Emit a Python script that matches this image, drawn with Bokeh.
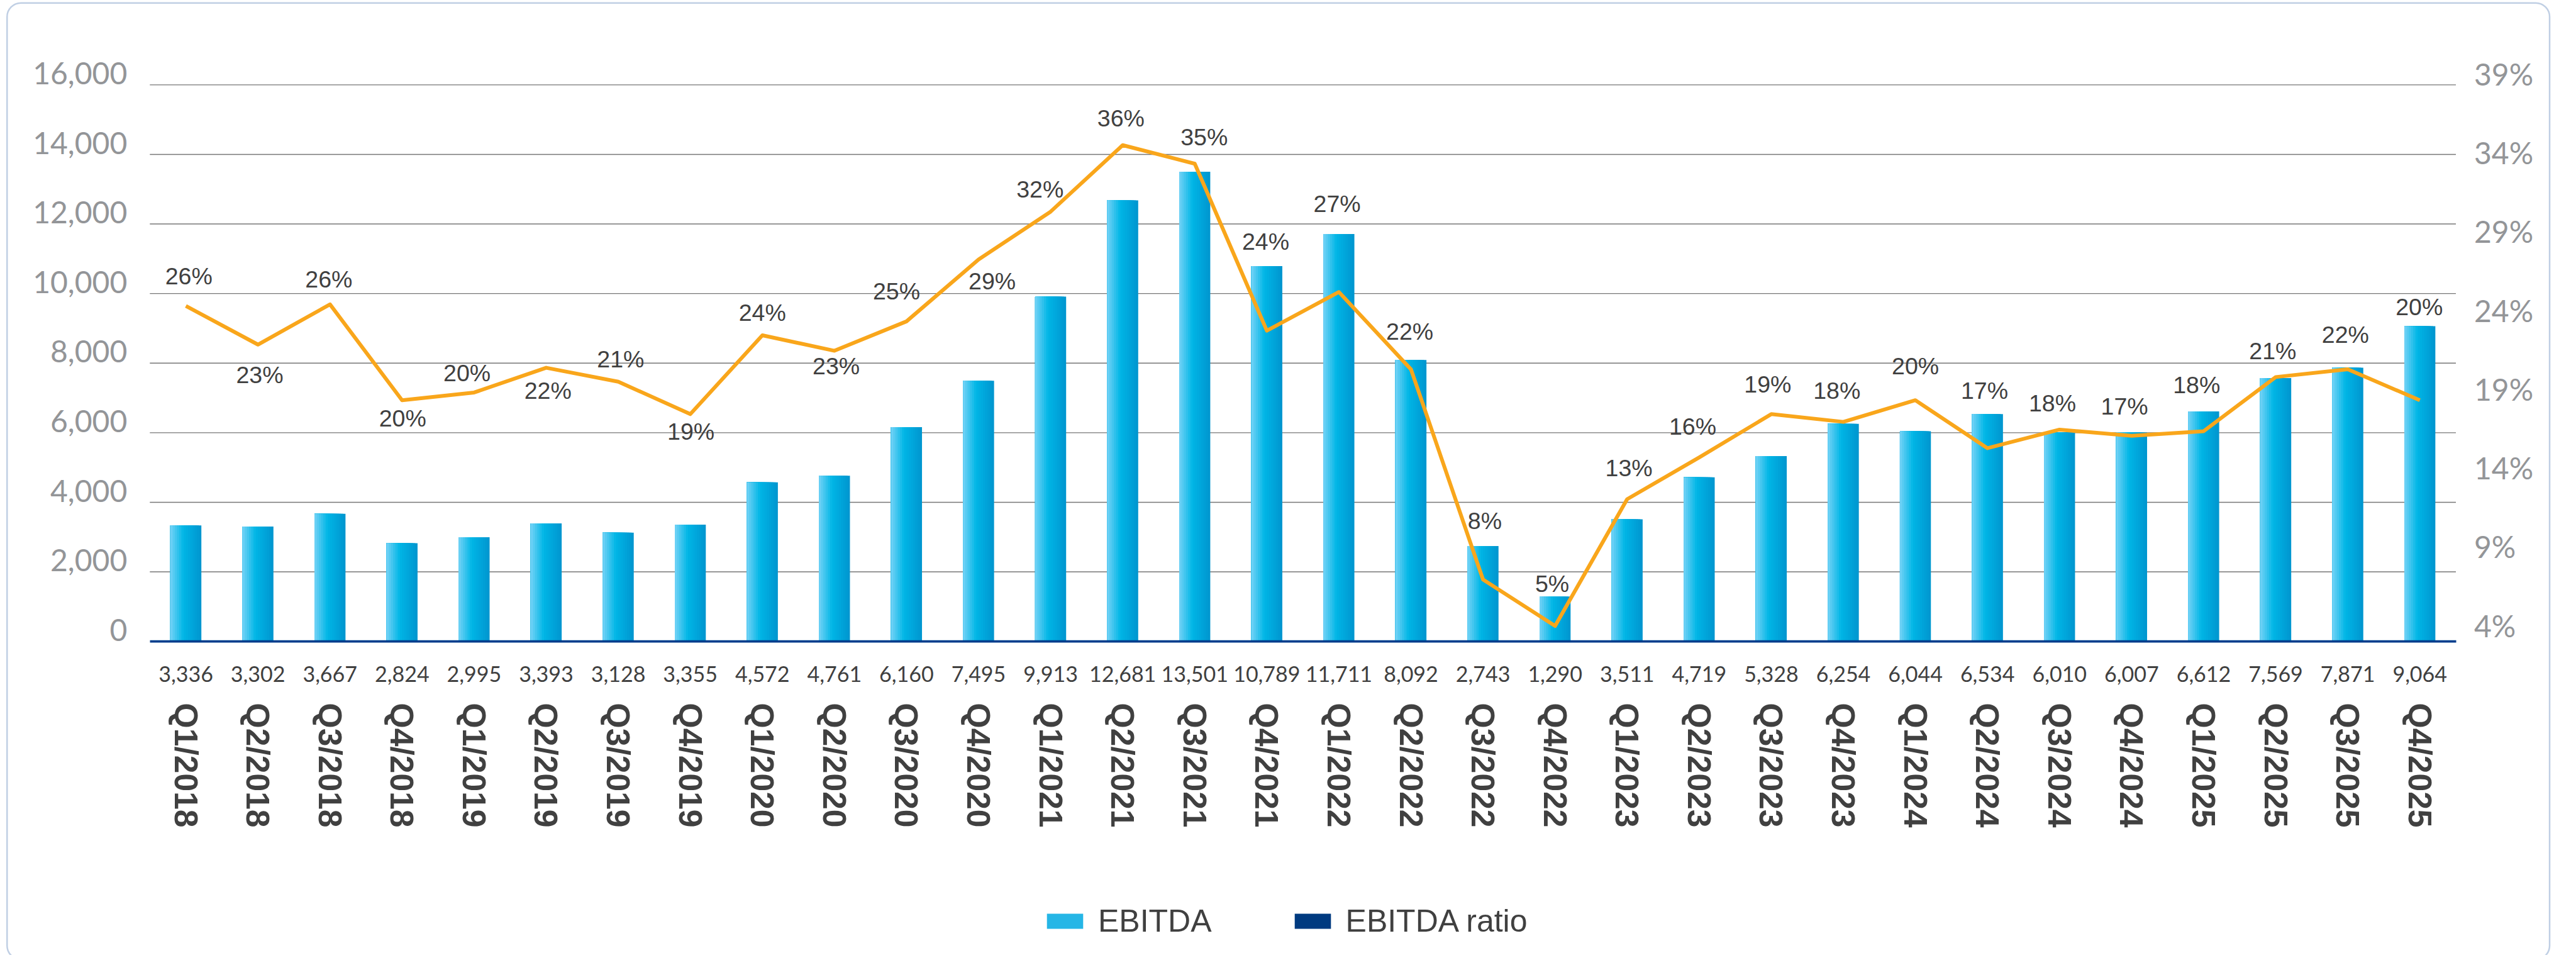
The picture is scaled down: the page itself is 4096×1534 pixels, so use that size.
from bokeh.plotting import figure
from bokeh.models import (Range1d, LinearAxis, FixedTicker, NumeralTickFormatter,
                          PrintfTickFormatter, ColumnDataSource, Legend, LegendItem,
                          BoxAnnotation)
from bokeh.transform import dodge
from bokeh.core.properties import value
from bokeh.embed import file_html
from bokeh.resources import INLINE

# ---------------- data ----------------
quarters = ["Q1/2018", "Q2/2018", "Q3/2018", "Q4/2018",
            "Q1/2019", "Q2/2019", "Q3/2019", "Q4/2019",
            "Q1/2020", "Q2/2020", "Q3/2020", "Q4/2020",
            "Q1/2021", "Q2/2021", "Q3/2021", "Q4/2021",
            "Q1/2022", "Q2/2022", "Q3/2022", "Q4/2022",
            "Q1/2023", "Q2/2023", "Q3/2023", "Q4/2023",
            "Q1/2024", "Q2/2024", "Q3/2024", "Q4/2024",
            "Q1/2025", "Q2/2025", "Q3/2025", "Q4/2025"]
ebitda = [3336, 3302, 3667, 2824, 2995, 3393, 3128, 3355,
          4572, 4761, 6160, 7495, 9913, 12681, 13501, 10789,
          11711, 8092, 2743, 1290, 3511, 4719, 5328, 6254,
          6044, 6534, 6010, 6007, 6612, 7569, 7871, 9064]
ebitda_ratio = [25.7, 23.2, 25.8, 19.6, 20.1, 21.7, 20.8, 18.7,
                23.8, 22.8, 24.7, 28.7, 31.8, 36.1, 34.9, 24.1,
                26.6, 21.6, 8.0, 5.0, 13.2, 15.9, 18.7, 18.2,
                19.6, 16.5, 17.7, 17.3, 17.6, 21.1, 21.6, 19.6]
ratio_labels = [26, 23, 26, 20, 20, 22, 21, 19,
                24, 23, 25, 29, 32, 36, 35, 24,
                27, 22, 8, 5, 13, 16, 19, 18,
                20, 17, 18, 17, 18, 21, 22, 20]
left_ticks = [0, 2000, 4000, 6000, 8000, 10000, 12000, 14000, 16000]
right_ticks = [4, 9, 14, 19, 24, 29, 34, 39]
legend_labels = ["EBITDA", "EBITDA ratio"]

# ---------------- layout / styling (reference px scaled by S) ----------------
S = 0.938
W, H = 4080, 1518
def fx(v):
    return v * S - 8

label_dx = [5, 3, -2, 1, -12, 3, 4, 1, 0, 3, -17, 23, -18, -3, 16, -2,
            -3, -2, 3, -5, 3, -11, -6, -11, 0, -5, -12, -12, -12, -5, -4, -1]
label_dy = [-50, 51, -43, 31, -33, 39, -38, 30, -38, 26, -51, 37, -38, -46, -45, -151,
            -149, -64, -100, -71, -53, -52, -50, -53, -58, -97, -45, -50, -78, -44, -59, -158]

n = len(quarters)
idx = list(range(n))

# x: category i centred at ref 323.08 + 122.16*i
x0_px = fx(323.08)
x_ppu = 122.16 * S
x_range = Range1d(-x0_px / x_ppu, (W - x0_px) / x_ppu)

def vrange(v0, px0, ppu):
    return Range1d(v0 - (H - px0) / ppu, v0 + px0 / ppu)

base_px = fx(1095)                       # y of value 0 / axis line
main_ppu = 117.9 * S / 2000
p = figure(width=W, height=H, x_range=x_range, y_range=vrange(0, base_px, main_ppu),
           x_axis_location=None, y_axis_location=None, title=None,
           output_backend="svg", toolbar_location=None, min_border=0)
p.outline_line_color = None
p.background_fill_color = "white"
p.border_fill_color = "white"
p.xgrid.visible = False
p.ygrid.visible = False

p.extra_y_ranges = {
    "ratio": vrange(4, base_px, 26.2 * S),
    "rlbl": vrange(4, fx(1068), 26.72 * S),
    "llbl": vrange(0, base_px - 19.5 * S, main_ppu),
}

src = ColumnDataSource(dict(
    i=idx, v=ebitda, r=ebitda_ratio,
    lbl=[f"{x}%" for x in ratio_labels],
    dx=[d * S for d in label_dx], dy=[d * S for d in label_dy],
))

# grid lines (only across the category span)
gsrc = ColumnDataSource(dict(y=left_ticks[1:],
                             x0=[-0.5] * (len(left_ticks) - 1),
                             x1=[n - 0.5] * (len(left_ticks) - 1)))
p.segment(x0="x0", x1="x1", y0="y", y1="y", source=gsrc,
          line_color="#767676", line_width=1.4, level="underlay")

# gradient bars (nested left-aligned strips)
def lerp(c1, c2, t):
    return tuple(round(a + (b - a) * t) for a, b in zip(c1, c2))

stops = [(0.0, (0x74, 0xd2, 0xf6)), (0.42, (0x00, 0xb6, 0xe6)), (1.0, (0x00, 0x95, 0xcf))]
def grad(t):
    for (t0, c0), (t1, c1) in zip(stops[:-1], stops[1:]):
        if t <= t1:
            return "#%02x%02x%02x" % lerp(c0, c1, (t - t0) / (t1 - t0))
    return "#%02x%02x%02x" % stops[-1][1]

BW = 0.43
N = 14
for k in range(N, 0, -1):
    f = k / N
    w = BW * f
    off = -BW / 2 + w / 2
    p.vbar(x=dodge("i", off), top="v", width=w, bottom=0,
           source=src, fill_color=grad((k - 0.5) / N), line_color=None)

p.line("i", "r", source=src, y_range_name="ratio", line_color="#f9a61b",
       line_width=6, line_join="round")

p.text(x="i", y="r", text="lbl", x_offset="dx", y_offset="dy", source=src,
       y_range_name="ratio", text_align="center", text_baseline="middle",
       text_font=value("Liberation Sans"), text_font_size="37.5px", text_color="#404040")

# x axes fixed at value 0
xa = LinearAxis(ticker=FixedTicker(ticks=idx), fixed_location=0, bounds=(-0.5, n - 0.5),
                major_label_overrides={i: f"{v:,}" for i, v in zip(idx, ebitda)},
                axis_line_color="#003d8c", axis_line_width=3.75,
                major_tick_line_color=None, minor_tick_line_color=None,
                major_label_standoff=33, major_label_text_font="Lato",
                major_label_text_font_size="34px", major_label_text_color="#404040")
p.add_layout(xa, "below")

xa2 = LinearAxis(ticker=FixedTicker(ticks=idx), fixed_location=0, bounds=(-0.5, n - 0.5),
                 major_label_overrides={i: q for i, q in zip(idx, quarters)},
                 axis_line_color=None, major_tick_line_color=None, minor_tick_line_color=None,
                 major_label_standoff=92, major_label_text_font="Liberation Sans",
                 major_label_text_font_style="bold", major_label_text_font_size="51.6px",
                 major_label_text_color="#404040", major_label_orientation="vertical")
p.add_layout(xa2, "below")

la = LinearAxis(y_range_name="llbl", ticker=FixedTicker(ticks=left_ticks), fixed_location=-0.5,
                formatter=NumeralTickFormatter(format="0,0"),
                axis_line_color=None, major_tick_line_color=None, minor_tick_line_color=None,
                major_label_standoff=30, major_label_text_font="Lato",
                major_label_text_font_size="48px", major_label_text_color="#939598")
p.add_layout(la, "left")

ra = LinearAxis(y_range_name="rlbl", ticker=FixedTicker(ticks=right_ticks), fixed_location=n - 0.5,
                formatter=PrintfTickFormatter(format="%d%%"),
                axis_line_color=None, major_tick_line_color=None, minor_tick_line_color=None,
                major_label_standoff=23, major_label_text_font="Lato",
                major_label_text_font_size="48px", major_label_text_color="#939598")
p.add_layout(ra, "right")

# legend (swatch proxies: zero-size bars, so they draw nothing in the plot)
r1 = p.vbar(x=[0], top=[0], bottom=[0], width=0, fill_color="#25b6e6", line_color=None)
r2 = p.vbar(x=[0], top=[0], bottom=[0], width=0, fill_color="#003a80", line_color=None)
legend = Legend(items=[LegendItem(label=legend_labels[0], renderers=[r1]),
                       LegendItem(label=legend_labels[1], renderers=[r2])],
                orientation="horizontal", location=(fx(1775), H - (fx(1556) + 29) - 12),
                glyph_width=72, glyph_height=30, label_standoff=17, spacing=124,
                padding=0, margin=0, border_line_color=None, background_fill_alpha=0,
                label_text_font="Liberation Sans", label_text_font_size="50px",
                label_text_color="#404040")
p.add_layout(legend, "center")

# rounded outer border
border = BoxAnnotation(left=fx(20), right=fx(4330), top=fx(13), bottom=fx(1634),
                       left_units="canvas", right_units="canvas",
                       top_units="canvas", bottom_units="canvas",
                       fill_color=None, fill_alpha=0, line_color="#2f5fa7",
                       line_width=2.5, border_radius=22)
p.add_layout(border)

open("out.html", "w").write(file_html(p, INLINE))
